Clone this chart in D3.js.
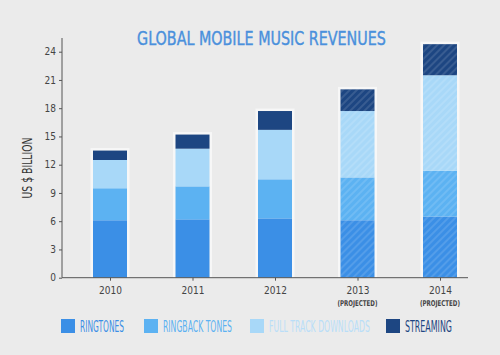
<!DOCTYPE html>
<html>
<head>
<meta charset="utf-8">
<script src="https://cdn.jsdelivr.net/npm/d3@7"></script>
<style>
  body { margin: 0; background: #ebebeb; }
  svg { display: block; }
</style>
</head>
<body>
<script>
// data
let years = ["2010", "2011", "2012", "2013", "2014"];
let subLabels = ["", "", "", "(PROJECTED)", "(PROJECTED)"];
let projected = [false, false, false, true, true];
let ringtones = [6.1, 6.2, 6.3, 6.1, 6.5];
let ringback = [3.4, 3.5, 4.15, 4.55, 4.85];
let fullTrack = [3.0, 4.0, 5.25, 7.05, 10.15];
let streaming = [1.0, 1.5, 2.0, 2.3, 3.3];
let seriesNames = ["RINGTONES", "RINGBACK TONES", "FULL TRACK DOWNLOADS", "STREAMING"];
let yTicks = [0, 3, 6, 9, 12, 15, 18, 21, 24];

let colors = ["#3b8fe6", "#5cb2f2", "#a8d8f8", "#1d4682"];
let legendTextColors = ["#3b8fe6", "#5cb2f2", "#b9def8", "#1d4682"];
let font = "'DejaVu Sans Condensed', 'Liberation Sans Narrow', sans-serif";

let w = 500;
let h = 355;

// squeeze a text horizontally to a given width (anchor x,y stays put)
function squeeze(sel, width, x, y, anchor) {
  sel.each(function(d, i) {
    let t = d3.select(this);
    let tw = typeof width === "function" ? width(d, i) : width;
    let nat = this.getComputedTextLength();
    let s = tw / nat;
    let px = typeof x === "function" ? x(d, i) : x;
    t.attr("x", 0).attr("y", 0)
      .attr("text-anchor", anchor)
      .attr("transform", "translate(" + px + "," + y + ") scale(" + s + ",1)");
  });
}

let table = years.map((y, i) => ({
  year: y,
  sub: subLabels[i],
  projected: projected[i],
  RINGTONES: ringtones[i],
  "RINGBACK TONES": ringback[i],
  "FULL TRACK DOWNLOADS": fullTrack[i],
  STREAMING: streaming[i]
}));

let stacked = d3.stack().keys(seriesNames)(table);

let xScale = d3.scalePoint()
  .domain(years)
  .range([110, 440]);
let barW = 34;

let yScale = d3.scaleLinear()
  .domain([0, 24])
  .range([277.7, 51.7]);

let svg = d3.select("body")
  .append("svg")
  .attr("width", w)
  .attr("height", h);

svg.append("rect")
  .attr("width", w).attr("height", h)
  .attr("fill", "#ebebeb");

// hatch for projected years
let defs = svg.append("defs");
defs.append("pattern")
  .attr("id", "hatch")
  .attr("patternUnits", "userSpaceOnUse")
  .attr("width", 5).attr("height", 5)
  .attr("patternTransform", "rotate(45)")
  .append("rect")
  .attr("width", 2).attr("height", 5)
  .attr("fill", "#ffffff")
  .attr("opacity", 0.12);

// title
svg.append("text")
  .text("GLOBAL MOBILE MUSIC REVENUES")
  .attr("font-family", font)
  .attr("font-size", "20px")
  .attr("fill", "#4a90dc")
  .attr("stroke", "#4a90dc")
  .attr("stroke-width", 0.4)
  .call(squeeze, 249, 261.5, 45, "middle");

// white halo behind bars
let totals = table.map((d) => d3.sum(seriesNames, (k) => d[k]));
svg.selectAll("rect.halo")
  .data(table)
  .enter()
  .append("rect")
  .attr("class", "halo")
  .attr("x", (d) => xScale(d.year) - barW / 2 - 2.5)
  .attr("y", (d, i) => yScale(totals[i]) - 2.5)
  .attr("width", barW + 5)
  .attr("height", (d, i) => yScale(0) - yScale(totals[i]) + 2.5)
  .attr("fill", "#ffffff")
  .attr("opacity", 0.6);

// stacked bars
let layers = svg.selectAll("g.layer")
  .data(stacked)
  .enter()
  .append("g")
  .attr("class", "layer")
  .attr("fill", (d, i) => colors[i]);

layers.selectAll("rect")
  .data((d) => d)
  .enter()
  .append("rect")
  .attr("x", (d) => xScale(d.data.year) - barW / 2)
  .attr("y", (d) => yScale(d[1]))
  .attr("width", barW)
  .attr("height", (d) => yScale(d[0]) - yScale(d[1]));

layers.selectAll("rect.hatch")
  .data((d) => d.filter((p) => p.data.projected))
  .enter()
  .append("rect")
  .attr("class", "hatch")
  .attr("x", (d) => xScale(d.data.year) - barW / 2)
  .attr("y", (d) => yScale(d[1]))
  .attr("width", barW)
  .attr("height", (d) => yScale(d[0]) - yScale(d[1]))
  .attr("fill", "url(#hatch)");

// y axis
let yAxis = svg.append("g")
  .attr("transform", "translate(62,0)")
  .call(d3.axisLeft(yScale).tickValues(yTicks).tickSize(3).tickSizeOuter(0));
yAxis.select(".domain")
  .attr("d", "M0," + 38 + "V" + yScale(0))
  .attr("stroke", "#555");
yAxis.selectAll(".tick line").attr("stroke", "#555");
yAxis.selectAll(".tick text")
  .attr("x", -6)
  .attr("font-family", font)
  .attr("font-size", "10px")
  .attr("fill", "#444");

// x axis
let xAxis = svg.append("g")
  .attr("transform", "translate(0," + yScale(0) + ")")
  .call(d3.axisBottom(xScale).tickSize(3).tickSizeOuter(0));
xAxis.select(".domain")
  .attr("d", "M62,0H468")
  .attr("stroke", "#555");
xAxis.selectAll(".tick line").attr("stroke", "#555");
xAxis.selectAll(".tick text")
  .attr("y", 9)
  .attr("font-family", font)
  .attr("font-size", "10px")
  .attr("fill", "#444");

svg.selectAll("text.sub")
  .data(table.filter((d) => d.sub))
  .enter()
  .append("text")
  .attr("class", "sub")
  .text((d) => d.sub)
  .attr("font-family", font)
  .attr("font-size", "8px")
  .attr("font-weight", "bold")
  .attr("fill", "#444")
  .call(squeeze, 40, (d) => xScale(d.year), 306, "middle");

// y label
svg.append("text")
  .text("US $ BILLION")
  .attr("font-family", font)
  .attr("font-size", "14px")
  .attr("fill", "#333")
  .call(squeeze, 61, 0, 0, "middle")
  .attr("transform", function() {
    return "translate(32,168) rotate(-90) " + d3.select(this).attr("transform").replace("translate(0,0) ", "");
  });

// legend
let legendX = [61, 144, 250, 386];
let legendTextW = [44, 69, 101, 47];
let legend = svg.selectAll("g.legend")
  .data(seriesNames)
  .enter()
  .append("g")
  .attr("class", "legend")
  .attr("transform", (d, i) => "translate(" + legendX[i] + ",319)");

legend.append("rect")
  .attr("width", 14)
  .attr("height", 14)
  .attr("fill", (d, i) => colors[i]);

legend.append("text")
  .text((d) => d)
  .attr("font-family", font)
  .attr("font-size", "15px")
  .attr("fill", (d, i) => legendTextColors[i])
  .call(squeeze, (d, i) => legendTextW[i], 19, 13, "start");
</script>
</body>
</html>
